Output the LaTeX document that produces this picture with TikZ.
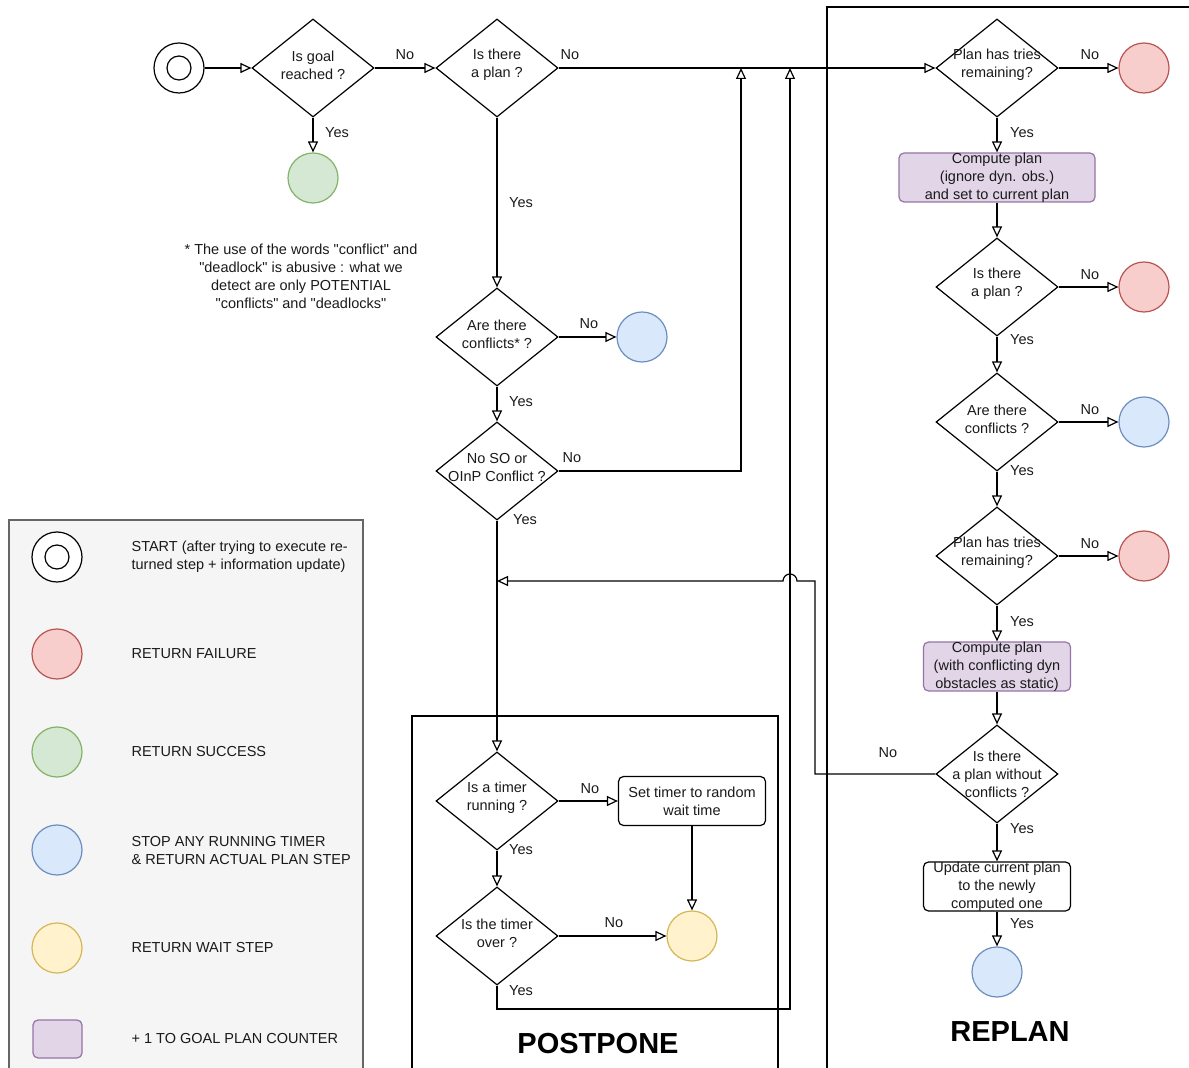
\documentclass[tikz,border=0pt]{standalone}
\usepackage{fontspec}
\setmainfont{Liberation Sans}
\usetikzlibrary{shapes.geometric, arrows.meta}
\definecolor{gfill}{HTML}{D5E8D4}\definecolor{gdraw}{HTML}{82B366}
\definecolor{rfill}{HTML}{F8CECC}\definecolor{rdraw}{HTML}{B85450}
\definecolor{bfill}{HTML}{DAE8FC}\definecolor{bdraw}{HTML}{6C8EBF}
\definecolor{yfill}{HTML}{FFF2CC}\definecolor{ydraw}{HTML}{D6B656}
\definecolor{pfill}{HTML}{E1D5E7}\definecolor{pdraw}{HTML}{9673A6}
\definecolor{lgfill}{HTML}{F5F5F5}\definecolor{lgdraw}{HTML}{666666}
\definecolor{txt}{HTML}{1A1A1A}
\newcommand{\qq}{\textquotedbl}
\begin{document}
\begin{tikzpicture}[x=0.5pt, y=-0.5pt,
  font=\fontsize{7.25}{9}\selectfont, text=txt,
  line width=0.6pt,
  dec/.style={diamond, draw, minimum width=61pt, minimum height=49pt, inner sep=0pt,
    label={[align=center, inner sep=0pt, yshift=1.5pt]center:{#1}}},
  dec3/.style={diamond, draw, minimum width=61pt, minimum height=49pt, inner sep=0pt,
    label={[align=center, inner sep=0pt]center:{#1}}},
  endc/.style={circle, minimum size=25pt, inner sep=0pt, line width=0.6pt},
  red/.style={endc, fill=rfill, draw=rdraw},
  green/.style={endc, fill=gfill, draw=gdraw},
  blue/.style={endc, fill=bfill, draw=bdraw},
  yellow/.style={endc, fill=yfill, draw=ydraw},
  startc/.style={endc, draw=black, fill=white},
  pbox/.style={rectangle, rounded corners=2.5pt, fill=pfill, draw=pdraw, inner sep=0pt,
    minimum height=24.5pt, label={[align=center, inner sep=0pt]center:{#1}}},
  wbox/.style={rectangle, rounded corners=2.5pt, fill=white, draw=black, inner sep=0pt,
    minimum width=73.5pt, minimum height=24.5pt, label={[align=center, inner sep=0pt]center:{#1}}},
  lbl/.style={inner sep=0pt},
  legtxt/.style={anchor=west, align=left, inner sep=0pt},
  title/.style={font=\fontsize{14.5}{16}\selectfont\bfseries, text=black},
  arr/.style={-{Triangle[open, length=5.5pt, width=5pt]}},
  frame/.style={draw=black, line width=0.6pt}
]
\useasboundingbox (0,0) rectangle (1189,1068);
\clip (0,0) rectangle (1189,1068);

% frames
\draw[frame] (412,1080) -- (412,716) -- (778,716) -- (778,1080);
\draw[frame] (827,1080) -- (827,7) -- (1200,7);
\filldraw[fill=lgfill, draw=lgdraw] (9,1080) -- (9,520) -- (363,520) -- (363,1080);

\node[title] (tpost) at (598,1044) {POSTPONE};
\node[title] (trep) at (1010,1032) {REPLAN};

% top row
\node[startc] (start) at (179,68) {};
\draw (start.center) circle (6pt);
\node[dec={Is goal\\reached ?}] (d1) at (313,68) {};
\node[dec={Is there\\a plan ?}] (d2) at (497,68) {};
\node[green] (succ) at (313,178) {};
\node[dec={Plan has tries\\remaining?}] (d3) at (997,68) {};
\node[red] (f1) at (1144,68) {};

\node[align=center, lbl] (note) at (301,276) {* The use of the words \qq conflict\qq{} and\\\qq deadlock\qq{} is abusive : what we\\detect are only POTENTIAL\\\qq conflicts\qq{} and \qq deadlocks\qq};

% replan column
\node[pbox={Compute plan\\(ignore dyn. obs.)\\and set to current plan}, minimum width=98pt] (p1) at (997,177.5) {};
\node[dec={Is there\\a plan ?}] (d4) at (997,287) {};
\node[red] (f2) at (1144,287) {};
\node[dec={Are there\\conflicts ?}] (d5) at (997,422) {};
\node[blue] (b2) at (1144,422) {};
\node[dec={Plan has tries\\remaining?}] (d6) at (997,556) {};
\node[red] (f3) at (1144,556) {};
\node[pbox={Compute plan\\(with conflicting dyn\\obstacles as static)}, minimum width=73.5pt] (p2) at (997,666.5) {};
\node[dec3={Is there\\a plan without\\conflicts ?}] (d7) at (997,774) {};
\node[wbox={Update current plan\\to the newly\\computed one}] (u1) at (997,886.5) {};
\node[blue] (b3) at (997,972) {};

% middle column
\node[dec={Are there\\conflicts* ?}] (d8) at (497,337) {};
\node[blue] (b1) at (642,337) {};
\node[dec={No SO or\\OInP Conflict ?}] (d9) at (497,471) {};
\node[dec={Is a timer\\running ?}] (d10) at (497,801) {};
\node[wbox={Set timer to random\\wait time}] (s1) at (692,801) {};
\node[dec={Is the timer\\over ?}] (d11) at (497,936) {};
\node[yellow] (w1) at (692,936) {};

\coordinate (j1) at (741,68);
\coordinate (j2) at (790,68);
\coordinate (j3) at (497,581);

% connectors
\draw[arr] (start.east) -- (d1.west);
\draw[arr] (d1.east) -- (d2.west);
\draw[arr] (d1.south) -- (succ.north);
\draw[arr] (d2.east) -- (d3.west);
\draw[arr] (d3.east) -- (f1.west);
\draw[arr] (d3.south) -- (p1.north);
\draw[arr] (p1.south) -- (d4.north);
\draw[arr] (d4.east) -- (f2.west);
\draw[arr] (d4.south) -- (d5.north);
\draw[arr] (d5.east) -- (b2.west);
\draw[arr] (d5.south) -- (d6.north);
\draw[arr] (d6.east) -- (f3.west);
\draw[arr] (d6.south) -- (p2.north);
\draw[arr] (p2.south) -- (d7.north);
\draw[arr] (d7.south) -- (u1.north);
\draw[arr] (u1.south) -- (b3.north);
\draw[arr] (d7.west) -- (815,774) -- (815,581) -- (797,581)
   arc[start angle=0, end angle=180, radius=3.5pt] -- (j3);
\draw[arr] (d2.south) -- (d8.north);
\draw[arr] (d8.east) -- (b1.west);
\draw[arr] (d8.south) -- (d9.north);
\draw[arr] (d9.east) -| (j1);
\draw[arr] (d9.south) -- (d10.north);
\draw[arr] (d10.east) -- (s1.west);
\draw[arr] (d10.south) -- (d11.north);
\draw[arr] (d11.east) -- (w1.west);
\draw[arr] (s1.south) -- (w1.north);
\draw[arr] (d11.south) -- (497,1009) -| (j2);

% labels
\node[lbl] (n1) at (405,55) {No};
\node[lbl] (n2) at (570,55) {No};
\node[lbl] (y1) at (337,133) {Yes};
\node[lbl] (n3) at (1090,55) {No};
\node[lbl] (y2) at (1022,133) {Yes};
\node[lbl] (n4) at (1090,275) {No};
\node[lbl] (y3) at (1022,340) {Yes};
\node[lbl] (n5) at (1090,410) {No};
\node[lbl] (y4) at (1022,471) {Yes};
\node[lbl] (n6) at (1090,544) {No};
\node[lbl] (y5) at (1022,622) {Yes};
\node[lbl] (n7) at (888,753) {No};
\node[lbl] (y6) at (1022,829) {Yes};
\node[lbl] (y7) at (1022,924) {Yes};
\node[lbl] (y8) at (521,203) {Yes};
\node[lbl] (n8) at (589,324) {No};
\node[lbl] (y9) at (521,402) {Yes};
\node[lbl] (n9) at (572,458) {No};
\node[lbl] (y10) at (525,520) {Yes};
\node[lbl] (n10) at (590,789) {No};
\node[lbl] (y11) at (521,850) {Yes};
\node[lbl] (n11) at (614,923) {No};
\node[lbl] (y12) at (521,991) {Yes};

% legend
\node[startc] (lg1) at (57,557) {};
\draw (lg1.center) circle (6pt);
\node[red] (lg2) at (57,654) {};
\node[green] (lg3) at (57,752) {};
\node[blue] (lg4) at (57,850) {};
\node[yellow] (lg5) at (57,948) {};
\node[rectangle, rounded corners=2.5pt, fill=pfill, draw=pdraw, minimum width=24.5pt, minimum height=19pt, inner sep=0pt] (lg6) at (57.5,1039) {};
\node[legtxt] (lt1) at (131,557) {START (after trying to execute re-\\turned step + information update)};
\node[legtxt] (lt2) at (131,654) {RETURN FAILURE};
\node[legtxt] (lt3) at (131,752) {RETURN SUCCESS};
\node[legtxt] (lt4) at (131,851) {STOP ANY RUNNING TIMER\\\& RETURN ACTUAL PLAN STEP};
\node[legtxt] (lt5) at (131,948) {RETURN WAIT STEP};
\node[legtxt] (lt6) at (131,1039) {+ 1 TO GOAL PLAN COUNTER};
\end{tikzpicture}
\end{document}
